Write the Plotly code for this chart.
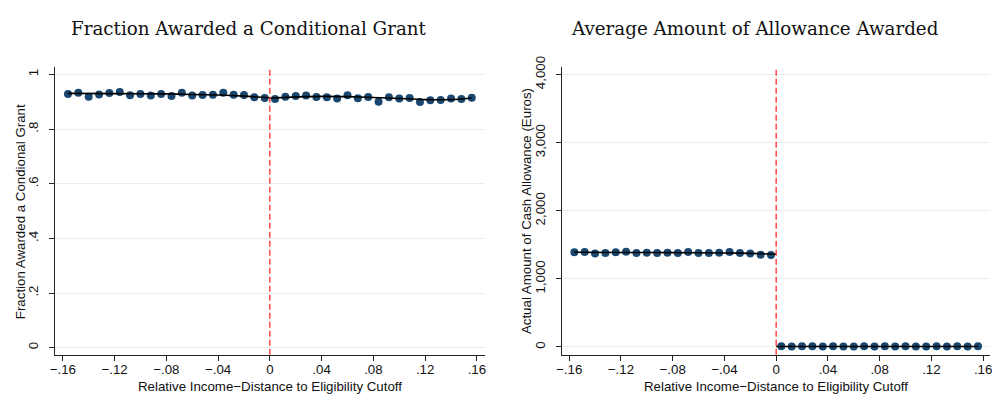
import plotly.graph_objects as go

# Bin centres of relative income distance (below / above the cutoff)
bins_below = [-0.156, -0.148, -0.140, -0.132, -0.124, -0.116, -0.108, -0.100, -0.092, -0.084,
              -0.076, -0.068, -0.060, -0.052, -0.044, -0.036, -0.028, -0.020, -0.012, -0.004]
bins_above = [0.004, 0.012, 0.020, 0.028, 0.036, 0.044, 0.052, 0.060, 0.068, 0.076,
              0.084, 0.092, 0.100, 0.108, 0.116, 0.124, 0.132, 0.140, 0.148, 0.156]

# Binned means: fraction awarded a conditional grant
frac_below = [0.929, 0.933, 0.919, 0.927, 0.932, 0.936, 0.924, 0.929, 0.923, 0.929,
              0.921, 0.933, 0.923, 0.925, 0.926, 0.933, 0.926, 0.925, 0.917, 0.914]
frac_above = [0.910, 0.919, 0.921, 0.923, 0.918, 0.917, 0.912, 0.924, 0.913, 0.918,
              0.900, 0.917, 0.912, 0.914, 0.899, 0.906, 0.907, 0.912, 0.910, 0.915]

# Binned means: actual allowance amount (Euros)
amt_below = [1389, 1393, 1374, 1379, 1389, 1398, 1379, 1384, 1379, 1384,
             1379, 1393, 1379, 1379, 1384, 1393, 1379, 1374, 1355, 1351]
amt_above = [9, 8, 9, 10, 8, 9, 8, 8, 9, 8, 9, 8, 9, 8, 8, 9, 8, 9, 8, 9]

# Fitted curves on each side of the cutoff
fit_frac_below_x = [-0.156, -0.12, -0.08, -0.06, -0.04, -0.02, 0.0]
fit_frac_below_y = [0.931, 0.930, 0.929, 0.927, 0.925, 0.921, 0.915]
fit_frac_above_x = [0.0, 0.02, 0.04, 0.06, 0.08, 0.10, 0.12, 0.14, 0.156]
fit_frac_above_y = [0.913, 0.918, 0.920, 0.919, 0.916, 0.912, 0.908, 0.908, 0.914]

fit_amt_below_x = [-0.156, -0.12, -0.08, -0.04, -0.02, 0.0]
fit_amt_below_y = [1390, 1388, 1385, 1380, 1374, 1362]
fit_amt_above_x = [0.0, 0.04, 0.08, 0.12, 0.156]
fit_amt_above_y = [8, 8, 8, 8, 8]

x_ticks = [-0.16, -0.12, -0.08, -0.04, 0, 0.04, 0.08, 0.12, 0.16]
x_ticktext = ["\u2212.16", "\u2212.12", "\u2212.08", "\u2212.04", "0", ".04", ".08", ".12", ".16"]
frac_ticks = [0, 0.2, 0.4, 0.6, 0.8, 1.0]
frac_ticktext = ["0", ".2", ".4", ".6", ".8", "1"]
amt_ticks = [0, 1000, 2000, 3000, 4000]
amt_ticktext = ["0", "1,000", "2,000", "3,000", "4,000"]

titles = ["Fraction Awarded a Conditional Grant", "Average Amount of Allowance Awarded"]
x_title = "Relative Income\u2212Distance to Eligibility Cutoff"
y_titles = ["Fraction Awarded a Condional Grant", "Actual Amount of Cash Allowance (Euros)"]

W, H = 992, 399
DOT = "#1a476f"
SANS = "Liberation Sans, Arial, sans-serif"
SERIF = "DejaVu Serif, serif"
FS = 13.3

fig = go.Figure()

def add_panel(xa, ya, bx, by, ax, ay, fbx, fby, fax, fay):
    for xs, ys in ((bx, by), (ax, ay)):
        fig.add_trace(go.Scatter(x=xs, y=ys, mode="markers", xaxis=xa, yaxis=ya,
                                 marker=dict(color=DOT, size=8, line=dict(width=0)),
                                 showlegend=False, hoverinfo="skip"))
    for xs, ys in ((fbx, fby), (fax, fay)):
        fig.add_trace(go.Scatter(x=xs, y=ys, mode="lines", xaxis=xa, yaxis=ya,
                                 line=dict(color="black", width=1.6, shape="spline", smoothing=0.6),
                                 showlegend=False, hoverinfo="skip"))

add_panel("x", "y", bins_below, frac_below, bins_above, frac_above,
          fit_frac_below_x, fit_frac_below_y, fit_frac_above_x, fit_frac_above_y)
add_panel("x2", "y2", bins_below, amt_below, bins_above, amt_above,
          fit_amt_below_x, fit_amt_below_y, fit_amt_above_x, fit_amt_above_y)

# plot-area placement in pixels
L1, R1 = 49.3, 482.7
L2, R2 = 560.7, 992.0
TOP, BOT = 57.3, 353.5
ydom = [(H - BOT) / H, (H - TOP) / H]

common_x = dict(tickvals=x_ticks, ticktext=x_ticktext, showgrid=False, zeroline=False,
                showline=True, linecolor="#222", linewidth=1, ticks="outside", ticklen=5,
                tickcolor="#222", tickwidth=1, tickfont=dict(family=SANS, size=FS, color="#111"),
                ticklabeloverflow="allow", ticklabelstandoff=-3)
common_y = dict(showgrid=True, gridcolor="#e6eff0", gridwidth=1, zeroline=False,
                showline=True, linecolor="#222", linewidth=1, ticks="outside", ticklen=5,
                tickcolor="#222", tickwidth=1, tickangle=-90, ticklabelstandoff=6,
                tickfont=dict(family=SANS, size=FS, color="#111"))

fig.update_layout(
    width=W, height=H, margin=dict(l=0, r=0, t=0, b=0),
    paper_bgcolor="white", plot_bgcolor="white",
    xaxis=dict(domain=[L1 / W, R1 / W], range=[-0.1661, 0.1661], anchor="y", **common_x),
    yaxis=dict(domain=ydom, range=[-0.026, 1.0285], anchor="x",
               tickvals=frac_ticks, ticktext=frac_ticktext, **common_y),
    xaxis2=dict(domain=[L2 / W, R2 / W], range=[-0.1654, 0.1653], anchor="y2", **common_x),
    yaxis2=dict(domain=ydom, range=[-114, 4114], anchor="x2",
                tickvals=amt_ticks, ticktext=amt_ticktext, **common_y),
)

# eligibility cutoff
for xr, yr in (("x", "y"), ("x2", "y2")):
    fig.add_shape(type="line", xref=xr, yref=f"{yr} domain", x0=0, x1=0, y0=0, y1=1,
                  line=dict(color="#ff2a2a", width=1.3, dash="6px,3px"), layer="above")

def px_x(p):
    return p / W

def px_y(p):
    return (H - p) / H

ann = []
# panel titles (placed by the bottom of their text box)
for cx, t in ((245, titles[0]), (755, titles[1])):
    ann.append(dict(text=t, x=px_x(cx), y=px_y(31), xref="paper", yref="paper",
                    xanchor="center", yanchor="bottom", showarrow=False,
                    font=dict(family=SERIF, size=18.3, color="#111")))
# x-axis titles
for cx in (266, 776.5):
    ann.append(dict(text=x_title, x=px_x(cx), y=px_y(386), xref="paper", yref="paper",
                    xanchor="center", yanchor="middle", showarrow=False,
                    font=dict(family=SANS, size=FS, color="#111")))
# y-axis titles
for cx, cy, t in ((14, 206, y_titles[0]), (525, 206, y_titles[1])):
    ann.append(dict(text=t, x=px_x(cx), y=px_y(cy), xref="paper", yref="paper",
                    xanchor="center", yanchor="middle", textangle=-90, showarrow=False,
                    font=dict(family=SANS, size=FS, color="#111")))
fig.update_layout(annotations=ann)

fig.write_html("out.html")
